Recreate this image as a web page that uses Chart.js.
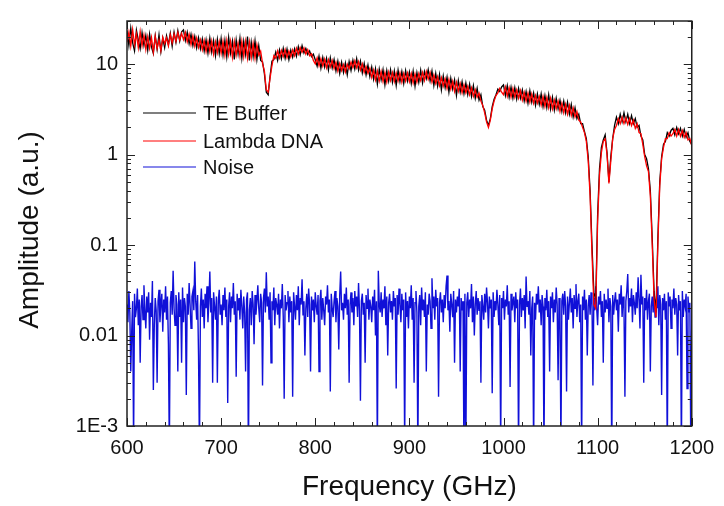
<!DOCTYPE html>
<html>
<head>
<meta charset="utf-8">
<script src="https://cdn.jsdelivr.net/npm/chart.js@4/dist/chart.umd.min.js"></script>
<style>
  html, body { margin: 0; padding: 0; background: #fff; }
  #wrap { width: 724px; height: 506px; position: relative; }
</style>
</head>
<body>
<div id="wrap"><canvas id="chart" width="724" height="506"></canvas></div>
<script>
// spectra sampled every 2 GHz, noise every 1 GHz, from 600 GHz
const freqStart = 600;
const specStep = 2;
const noiseStep = 1;

const xTicks = [600, 700, 800, 900, 1000, 1100, 1200];
const yTicks = [0.001, 0.01, 0.1, 1, 10];
const yTickLabels = ["1E-3", "0.01", "0.1", "1", "10"];

const seriesNames = ["TE Buffer", "Lambda DNA", "Noise"];

const teBuffer = [
  23.5, 16.0, 25.0, 17.2, 14.0, 23.8, 18.6, 14.8, 22.4, 16.1,
  20.8, 14.2, 21.5, 15.4, 13.1, 20.6, 14.6, 21.2, 13.8, 19.4,
  15.2, 20.6, 16.4, 22.0, 15.8, 22.6, 17.4, 23.5, 18.0, 22.8,
  23.9, 18.2, 22.6, 16.9, 21.4, 16.0, 20.3, 15.1, 19.6, 14.8,
  19.0, 13.9, 18.6, 13.2, 19.4, 13.6, 18.2, 12.4, 18.8, 13.1,
  19.2, 12.6, 18.4, 12.0, 19.8, 13.2, 18.0, 11.3, 18.5, 13.0,
  19.4, 11.6, 17.9, 12.8, 20.2, 11.0, 17.5, 12.1, 18.1, 11.2,
  16.0, 11.0, 10.6, 7.8, 4.9, 4.6, 7.4, 10.8, 11.2, 13.6,
  11.0, 14.4, 11.5, 15.0, 11.6, 14.7, 11.2, 14.3, 11.9, 14.8,
  12.2, 15.6, 12.7, 16.0, 13.3, 14.9, 12.8, 14.0, 12.1, 12.9,
  11.2, 9.5, 12.3, 9.0, 11.9, 9.3, 11.6, 8.6, 11.8, 9.1,
  11.3, 8.4, 10.8, 7.9, 10.5, 8.1, 10.3, 7.6, 10.7, 8.5,
  11.1, 8.8, 11.5, 8.6, 10.8, 8.0, 10.2, 7.6, 9.8, 7.3,
  9.3, 6.8, 8.9, 6.0, 8.8, 6.7, 8.7, 5.9, 8.5, 6.5,
  8.7, 6.3, 8.4, 5.8, 8.6, 6.4, 8.3, 6.1, 8.5, 6.5,
  8.2, 6.1, 8.4, 5.7, 8.1, 6.3, 8.6, 6.2, 8.3, 6.9,
  8.7, 6.5, 8.4, 5.8, 7.9, 5.7, 7.7, 5.2, 7.4, 5.5,
  7.2, 4.9, 7.0, 5.3, 6.7, 4.5, 6.6, 4.9, 6.4, 4.7,
  6.2, 4.6, 6.0, 4.4, 5.8, 4.2, 5.4, 4.0, 4.6, 3.4,
  3.1, 2.4, 2.1, 2.5, 3.4, 4.1, 4.6, 5.3, 5.0, 5.6,
  5.9, 4.5, 5.8, 4.3, 5.6, 4.2, 5.5, 4.1, 5.4, 4.2,
  5.2, 3.9, 5.0, 3.7, 5.1, 3.8, 4.8, 3.5, 4.7, 3.6,
  4.7, 3.4, 4.5, 3.3, 4.6, 3.2, 4.3, 3.1, 4.2, 3.2,
  4.0, 3.0, 3.9, 2.9, 3.8, 2.8, 3.6, 2.6, 3.3, 2.5,
  2.8, 2.2, 2.2, 1.8, 1.5, 0.95, 0.4, 0.1, 0.03, 0.025,
  0.22, 0.7, 1.2, 1.45, 1.65, 1.05, 0.5, 0.95, 1.5, 2.1,
  2.6, 2.2, 2.8, 2.3, 2.9, 2.3, 2.8, 2.2, 2.7, 2.2,
  2.5, 2.0, 2.1, 1.6, 1.45, 1.0, 0.9, 0.7, 0.4, 0.12,
  0.03, 0.018, 0.12, 0.5, 0.95, 1.3, 1.4, 1.75, 1.6, 1.85,
  1.95, 1.65, 2.0, 1.7, 1.95, 1.6, 1.9, 1.55, 1.75, 1.4,
  1.3
];

const lambdaDna = [
  17.5, 22.6, 15.8, 24.2, 16.4, 21.8, 15.2, 22.9, 15.9, 21.0,
  14.5, 20.1, 15.0, 19.8, 13.6, 20.3, 14.9, 18.6, 14.1, 19.9,
  16.8, 19.6, 15.9, 21.2, 17.2, 21.6, 17.9, 22.4, 18.5, 21.9,
  18.7, 22.4, 17.6, 21.5, 16.4, 20.6, 15.8, 19.5, 15.3, 18.6,
  14.4, 18.3, 13.7, 17.9, 13.8, 18.1, 12.9, 17.6, 13.4, 17.8,
  13.1, 18.0, 12.5, 18.3, 12.8, 17.9, 11.9, 17.8, 12.6, 17.1,
  12.2, 18.0, 12.1, 17.8, 11.7, 17.6, 11.8, 17.0, 11.6, 16.4,
  12.6, 13.9, 10.2, 8.4, 5.2, 4.9, 7.0, 9.6, 12.4, 11.6,
  14.0, 11.7, 14.2, 12.1, 14.5, 11.8, 14.0, 12.0, 14.4, 12.4,
  15.0, 12.9, 15.3, 13.5, 15.1, 12.9, 14.5, 12.4, 13.0, 11.0,
  10.1, 11.8, 9.6, 11.5, 9.5, 11.4, 9.1, 11.2, 9.3, 11.0,
  8.9, 10.5, 8.4, 10.2, 8.5, 9.9, 8.2, 10.0, 8.9, 10.6,
  9.2, 10.9, 9.1, 10.7, 8.6, 10.1, 8.1, 9.4, 7.9, 9.0,
  7.1, 8.6, 6.7, 8.4, 6.5, 8.3, 6.4, 8.1, 6.3, 8.2,
  6.6, 8.1, 6.4, 8.0, 6.5, 8.0, 6.3, 7.9, 6.5, 8.0,
  6.4, 7.9, 6.2, 7.8, 6.3, 7.9, 6.6, 8.1, 6.6, 8.3,
  6.8, 8.1, 6.3, 7.6, 6.1, 7.3, 5.8, 7.1, 5.7, 6.9,
  5.4, 6.8, 5.3, 6.5, 5.0, 6.3, 5.0, 6.1, 4.8, 5.9,
  4.8, 5.7, 4.6, 5.5, 4.4, 5.2, 4.3, 4.8, 3.9, 3.5,
  2.9, 2.3, 2.0, 2.4, 3.2, 3.9, 4.5, 4.8, 5.4, 4.9,
  4.6, 5.6, 4.4, 5.5, 4.3, 5.4, 4.3, 5.2, 4.2, 5.1,
  4.0, 4.9, 3.9, 4.8, 3.8, 4.7, 3.7, 4.5, 3.7, 4.4,
  3.5, 4.4, 3.4, 4.3, 3.3, 4.2, 3.2, 4.0, 3.2, 3.9,
  3.0, 3.7, 2.9, 3.6, 2.8, 3.5, 2.7, 3.3, 2.6, 3.0,
  2.4, 2.3, 2.0, 1.75, 1.4, 0.85, 0.35, 0.08, 0.022, 0.02,
  0.18, 0.6, 1.05, 1.4, 1.5, 1.0, 0.48, 0.85, 1.5, 1.9,
  2.1, 2.5, 2.2, 2.6, 2.2, 2.55, 2.15, 2.5, 2.1, 2.4,
  1.95, 2.2, 1.75, 1.7, 1.3, 0.95, 0.75, 0.65, 0.35, 0.1,
  0.025, 0.016, 0.1, 0.45, 0.9, 1.2, 1.5, 1.5, 1.75, 1.6,
  1.7, 1.9, 1.6, 1.9, 1.6, 1.85, 1.55, 1.75, 1.45, 1.5,
  1.25
];

const noise = [
  0.022, 0.014, 0.031, 0.018, 0.004, 0.011, 0.024, 0.0006, 0.029, 0.016,
  0.020, 0.033, 0.013, 0.025, 0.005, 0.021, 0.028, 0.015, 0.036, 0.019,
  0.012, 0.027, 0.018, 0.030, 0.009, 0.023, 0.016, 0.040, 0.0025, 0.013,
  0.026, 0.019, 0.003, 0.024, 0.032, 0.014, 0.022, 0.029, 0.011, 0.025,
  0.018, 0.035, 0.015, 0.027, 0.008, 0.0005, 0.023, 0.031, 0.017, 0.052,
  0.020, 0.013, 0.028, 0.022, 0.004, 0.030, 0.016, 0.025, 0.005, 0.034,
  0.014, 0.026, 0.021, 0.0022, 0.029, 0.017, 0.038, 0.022, 0.012, 0.027,
  0.031, 0.019, 0.066, 0.024, 0.015, 0.028, 0.006, 0.0005, 0.021, 0.033,
  0.016, 0.025, 0.012, 0.029, 0.020, 0.035, 0.014, 0.023, 0.051, 0.018,
  0.026, 0.003, 0.030, 0.021, 0.015, 0.027, 0.003, 0.024, 0.032, 0.017,
  0.022, 0.013, 0.028, 0.019, 0.034, 0.016, 0.025, 0.0018, 0.021, 0.030,
  0.014, 0.027, 0.020, 0.038, 0.017, 0.024, 0.0035, 0.029, 0.019, 0.026,
  0.015, 0.032, 0.021, 0.012, 0.027, 0.018, 0.004, 0.025, 0.030, 0.0004,
  0.019, 0.026, 0.013, 0.031, 0.022, 0.008, 0.028, 0.017, 0.024, 0.036,
  0.020, 0.014, 0.029, 0.023, 0.0028, 0.026, 0.033, 0.018, 0.050, 0.021,
  0.027, 0.015, 0.030, 0.005, 0.024, 0.019, 0.034, 0.013, 0.026, 0.022,
  0.017, 0.029, 0.012, 0.025, 0.020, 0.037, 0.016, 0.002, 0.028, 0.019,
  0.023, 0.031, 0.014, 0.027, 0.018, 0.024, 0.0021, 0.030, 0.021, 0.015,
  0.028, 0.019, 0.035, 0.013, 0.026, 0.022, 0.042, 0.017, 0.024, 0.006,
  0.020, 0.029, 0.016, 0.033, 0.022, 0.004, 0.027, 0.019, 0.025, 0.014,
  0.030, 0.021, 0.017, 0.028, 0.004, 0.024, 0.032, 0.015, 0.026, 0.019,
  0.013, 0.027, 0.022, 0.036, 0.018, 0.025, 0.0024, 0.029, 0.020, 0.016,
  0.024, 0.031, 0.014, 0.026, 0.021, 0.007, 0.028, 0.051, 0.019, 0.023,
  0.015, 0.029, 0.020, 0.034, 0.017, 0.025, 0.003, 0.022, 0.030, 0.018,
  0.026, 0.013, 0.031, 0.021, 0.027, 0.016, 0.038, 0.019, 0.0019, 0.024,
  0.029, 0.017, 0.023, 0.005, 0.028, 0.020, 0.033, 0.015, 0.025, 0.021,
  0.014, 0.027, 0.019, 0.032, 0.010, 0.024, 0.0005, 0.052, 0.022, 0.018,
  0.030, 0.016, 0.025, 0.020, 0.035, 0.013, 0.027, 0.006, 0.023, 0.029,
  0.018, 0.024, 0.015, 0.031, 0.021, 0.026, 0.0026, 0.028, 0.017, 0.033,
  0.022, 0.014, 0.029, 0.019, 0.025, 0.0006, 0.030, 0.016, 0.024, 0.012,
  0.027, 0.020, 0.036, 0.015, 0.026, 0.003, 0.023, 0.031, 0.018, 0.0005,
  0.021, 0.028, 0.013, 0.034, 0.019, 0.025, 0.016, 0.030, 0.004, 0.022,
  0.017, 0.029, 0.024, 0.012, 0.043, 0.020, 0.027, 0.015, 0.032, 0.021,
  0.026, 0.0021, 0.023, 0.030, 0.018, 0.025, 0.014, 0.028, 0.020, 0.035,
  0.046, 0.019, 0.024, 0.011, 0.029, 0.022, 0.016, 0.031, 0.005, 0.025,
  0.018, 0.027, 0.021, 0.033, 0.004, 0.026, 0.019, 0.024, 0.0004, 0.029,
  0.0005, 0.023, 0.030, 0.016, 0.025, 0.020, 0.037, 0.014, 0.027, 0.010,
  0.022, 0.031, 0.017, 0.026, 0.019, 0.024, 0.003, 0.028, 0.021, 0.015,
  0.029, 0.018, 0.034, 0.023, 0.012, 0.027, 0.020, 0.025, 0.0023, 0.030,
  0.016, 0.024, 0.019, 0.032, 0.022, 0.013, 0.028, 0.0006, 0.026, 0.020,
  0.031, 0.015, 0.025, 0.021, 0.036, 0.017, 0.024, 0.0027, 0.029, 0.019,
  0.023, 0.027, 0.014, 0.030, 0.020, 0.025, 0.0005, 0.022, 0.033, 0.016,
  0.026, 0.019, 0.028, 0.012, 0.045, 0.021, 0.024, 0.017, 0.031, 0.006,
  0.020, 0.027, 0.0005, 0.023, 0.015, 0.029, 0.022, 0.035, 0.018, 0.025,
  0.013, 0.028, 0.021, 0.0005, 0.026, 0.019, 0.032, 0.016, 0.024, 0.004,
  0.027, 0.020, 0.030, 0.014, 0.025, 0.018, 0.034, 0.022, 0.0032, 0.026,
  0.019, 0.0006, 0.024, 0.029, 0.017, 0.031, 0.021, 0.0024, 0.027, 0.015,
  0.023, 0.033, 0.018, 0.026, 0.012, 0.028, 0.020, 0.037, 0.016, 0.024,
  0.029, 0.014, 0.022, 0.0005, 0.027, 0.019, 0.032, 0.015, 0.025, 0.006,
  0.021, 0.028, 0.017, 0.030, 0.023, 0.0028, 0.026, 0.019, 0.035, 0.020,
  0.013, 0.027, 0.022, 0.031, 0.016, 0.024, 0.005, 0.029, 0.018, 0.025,
  0.020, 0.033, 0.014, 0.026, 0.021, 0.0004, 0.028, 0.017, 0.024, 0.030,
  0.019, 0.025, 0.011, 0.029, 0.022, 0.036, 0.016, 0.027, 0.020, 0.0021,
  0.024, 0.031, 0.048, 0.018, 0.026, 0.021, 0.033, 0.014, 0.028, 0.023,
  0.017, 0.030, 0.020, 0.044, 0.025, 0.012, 0.047, 0.022, 0.027, 0.003,
  0.026, 0.019, 0.032, 0.015, 0.024, 0.029, 0.004, 0.021, 0.027, 0.018,
  0.031, 0.016, 0.025, 0.020, 0.035, 0.013, 0.028, 0.022, 0.0022, 0.026,
  0.019, 0.029, 0.015, 0.024, 0.0005, 0.030, 0.021, 0.027, 0.012, 0.025,
  0.020, 0.033, 0.017, 0.026, 0.022, 0.006, 0.028, 0.019, 0.024, 0.0005,
  0.031, 0.016, 0.025, 0.021, 0.029, 0.0026, 0.027, 0.018, 0.023, 0.0005,
  0.015
];

const FONT = "'Liberation Sans', Arial, sans-serif";

function toPoints(values, step) {
  return values.map((v, i) => ({ x: freqStart + i * step, y: v }));
}

// frame, inward ticks, axis titles and legend
const decorPlugin = {
  id: "decor",
  afterDraw(chart) {
    const { ctx, chartArea: a } = chart;
    const xs = chart.scales.x, ys = chart.scales.y;
    ctx.save();
    ctx.strokeStyle = "#222";
    ctx.lineWidth = 1.5;
    ctx.strokeRect(a.left, a.top, a.right - a.left, a.bottom - a.top);

    ctx.lineWidth = 1;
    ctx.beginPath();
    for (let f = 600; f <= 1200; f += 20) {
      const px = Math.round(xs.getPixelForValue(f)) + 0.5;
      const len = f % 100 === 0 ? 8 : 4;
      ctx.moveTo(px, a.bottom); ctx.lineTo(px, a.bottom - len);
      ctx.moveTo(px, a.top); ctx.lineTo(px, a.top + len);
    }
    for (let d = -3; d <= 1; d++) {
      for (let m = 1; m <= 9; m++) {
        const v = m * Math.pow(10, d);
        if (v > ys.max) break;
        const py = Math.round(ys.getPixelForValue(v)) + 0.5;
        const len = m === 1 ? 8 : 4;
        ctx.moveTo(a.left, py); ctx.lineTo(a.left + len, py);
        ctx.moveTo(a.right, py); ctx.lineTo(a.right - len, py);
      }
    }
    ctx.stroke();

    ctx.fillStyle = "#111";
    ctx.font = "28px " + FONT;
    ctx.textAlign = "center";
    ctx.textBaseline = "middle";
    ctx.fillText("Frequency (GHz)", (a.left + a.right) / 2, 487);
    ctx.save();
    ctx.translate(30, 230);
    ctx.rotate(-Math.PI / 2);
    ctx.fillText("Amplitude (a.u.)", 0, 0);
    ctx.restore();

    const legendY = [113, 141, 167];
    ctx.font = "20px " + FONT;
    ctx.textAlign = "left";
    chart.data.datasets.forEach((ds, i) => {
      ctx.strokeStyle = ds.borderColor;
      ctx.lineWidth = 1.2;
      ctx.beginPath();
      ctx.moveTo(143, legendY[i]); ctx.lineTo(196, legendY[i]);
      ctx.stroke();
      ctx.fillStyle = "#111";
      ctx.fillText(seriesNames[i], 203, legendY[i] + 1);
    });
    ctx.restore();
  }
};

new Chart(document.getElementById("chart"), {
  type: "line",
  data: {
    datasets: [
      { label: seriesNames[0], data: toPoints(teBuffer, specStep), borderColor: "#000000", borderWidth: 1.3, order: 1 },
      { label: seriesNames[1], data: toPoints(lambdaDna, specStep), borderColor: "#ff0000", borderWidth: 1.3, order: 0 },
      { label: seriesNames[2], data: toPoints(noise, noiseStep), borderColor: "#1010d8", borderWidth: 1.4, order: 2 }
    ]
  },
  options: {
    responsive: false,
    animation: false,
    layout: { padding: { top: 7, right: 30, left: 0, bottom: 0 } },
    elements: {
      line: { tension: 0 },
      point: { radius: 0 }
    },
    plugins: { legend: { display: false }, tooltip: { enabled: false } },
    scales: {
      x: {
        type: "linear",
        min: 600,
        max: 1200,
        grid: { display: false, drawTicks: false },
        border: { display: false },
        afterBuildTicks: s => { s.ticks = xTicks.map(v => ({ value: v })); },
        afterFit: s => { s.height = 80; },
        ticks: {
          color: "#111", padding: 10, maxRotation: 0,
          font: { size: 20, family: FONT },
          callback: v => String(v)
        }
      },
      y: {
        type: "logarithmic",
        min: 0.001,
        max: 30,
        grid: { display: false, drawTicks: false },
        border: { display: false },
        afterBuildTicks: s => { s.ticks = yTicks.map(v => ({ value: v })); },
        afterFit: s => { s.width = 127; },
        ticks: {
          color: "#111",
          padding: 9,
          font: { size: 20, family: FONT },
          callback: v => yTickLabels[yTicks.indexOf(v)] ?? ""
        }
      }
    }
  },
  plugins: [decorPlugin]
});
</script>
</body>
</html>
